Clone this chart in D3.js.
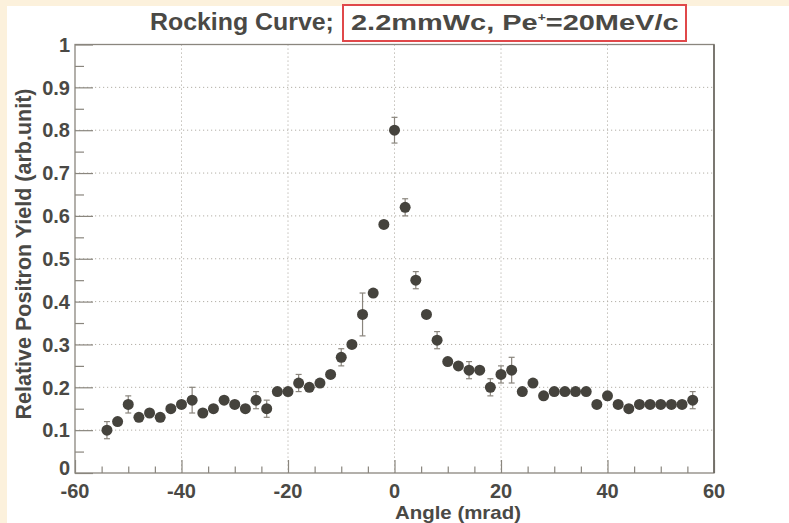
<!DOCTYPE html>
<meta charset="utf-8">
<style>
  body { margin: 0; background: #fcf1dc; }
  svg { display: block; }
  text { font-family: "Liberation Sans", Arial, Helvetica, sans-serif; fill: #4a4945; font-weight: bold; }
</style>
<svg width="789" height="523"></svg>
<script src="https://cdn.jsdelivr.net/npm/d3@7"></script>
<script>

// measured points: angle (mrad), relative yield, error (0 = bar hidden by marker)
var angles = [-54, -52, -50, -48, -46, -44, -42, -40, -38, -36, -34, -32, -30, -28, -26, -24, -22, -20,
              -18, -16, -14, -12, -10, -8, -6, -4, -2, 0, 2, 4, 6, 8, 10, 12, 14, 16, 18, 20,
              22, 24, 26, 28, 30, 32, 34, 36, 38, 40, 42, 44, 46, 48, 50, 52, 54, 56];
var yields = [0.10, 0.12, 0.16, 0.13, 0.14, 0.13, 0.15, 0.16, 0.17, 0.14, 0.15, 0.17, 0.16, 0.15, 0.17, 0.15, 0.19, 0.19,
              0.21, 0.20, 0.21, 0.23, 0.27, 0.30, 0.37, 0.42, 0.58, 0.80, 0.62, 0.45, 0.37, 0.31, 0.26, 0.25, 0.24, 0.24, 0.20, 0.23,
              0.24, 0.19, 0.21, 0.18, 0.19, 0.19, 0.19, 0.19, 0.16, 0.18, 0.16, 0.15, 0.16, 0.16, 0.16, 0.16, 0.16, 0.17];
var errors = [0.02, 0, 0.02, 0, 0, 0, 0, 0, 0.03, 0, 0, 0, 0, 0, 0.02, 0.02, 0, 0,
              0.02, 0, 0, 0, 0.02, 0, 0.05, 0, 0, 0.03, 0.02, 0.02, 0, 0.02, 0, 0, 0.02, 0, 0.02, 0.02,
              0.03, 0, 0, 0, 0, 0, 0, 0, 0, 0, 0, 0, 0, 0, 0, 0, 0, 0.02];

var xMajor = [-60, -40, -20, 0, 20, 40, 60];
var yMajor = [0, 0.1, 0.2, 0.3, 0.4, 0.5, 0.6, 0.7, 0.8, 0.9, 1];

var svg = d3.select("svg");

var frame = { left: 75, right: 714, top: 44.5, bottom: 473 };

var x = d3.scaleLinear().domain([-60, 60]).range([frame.left, frame.right]);
var y = d3.scaleLinear().domain([0, 1]).range([frame.bottom, frame.top]);

// squeeze/stretch a text element horizontally so it spans [x0, x1]
function fitWidth(sel, x0, x1) {
  var w = sel.node().getBBox().width;
  sel.attr("transform", "translate(" + x0 + ",0) scale(" + ((x1 - x0) / w) + ",1) translate(" + (-x0) + ",0)");
}

// white pad
svg.append("rect")
    .attr("x", 7).attr("y", 6)
    .attr("width", 782).attr("height", 517)
    .attr("fill", "#fff");

// grid
var grid = svg.append("g")
    .attr("stroke", "#b3afa7")
    .attr("stroke-width", 1)
    .attr("stroke-dasharray", "1.2,2.8");

grid.selectAll(".gx")
    .data(xMajor.filter(function(d) { return d > -60 && d < 60; }))
  .enter().append("line")
    .attr("x1", function(d) { return x(d); })
    .attr("x2", function(d) { return x(d); })
    .attr("y1", frame.top).attr("y2", frame.bottom);

grid.selectAll(".gy")
    .data(yMajor.filter(function(d) { return d > 0 && d < 1; }))
  .enter().append("line")
    .attr("y1", function(d) { return y(d); })
    .attr("y2", function(d) { return y(d); })
    .attr("x1", frame.left).attr("x2", frame.right);

// axes (ROOT style: ticks inside the frame)
var axisColor = "#8a867e";

var yAxis = d3.axisRight(y).tickValues(d3.range(0, 1.0001, 0.05))
    .tickSize(9).tickFormat("");
var gy = svg.append("g").attr("transform", "translate(" + frame.left + ",0)").call(yAxis);
gy.selectAll(".tick line")
    .attr("x2", function(d) { return Math.round(d * 100) % 10 === 0 ? 18 : 9; });

var xAxis = d3.axisTop(x).tickValues(d3.range(-60, 60.001, 5))
    .tickSize(6.5).tickFormat("");
var gx = svg.append("g").attr("transform", "translate(0," + frame.bottom + ")").call(xAxis);
gx.selectAll(".tick line")
    .attr("y2", function(d) { return d % 20 === 0 ? -13 : -6.5; });

svg.selectAll(".domain").remove();
svg.selectAll(".tick line").attr("stroke", axisColor).attr("stroke-width", 1.2);

// frame
svg.append("rect")
    .attr("x", frame.left).attr("y", frame.top)
    .attr("width", frame.right - frame.left)
    .attr("height", frame.bottom - frame.top)
    .attr("fill", "none")
    .attr("stroke", axisColor)
    .attr("stroke-width", 1.3);
svg.append("line")
    .attr("x1", frame.right).attr("x2", frame.right)
    .attr("y1", frame.top).attr("y2", frame.bottom)
    .attr("stroke", "#6d6a63").attr("stroke-width", 1.6);

// tick labels
svg.append("g").selectAll("text")
    .data(yMajor)
  .enter().append("text")
    .attr("x", 70)
    .attr("y", function(d) { return d === 0 ? y(d) - 5 : y(d); })
    .attr("dy", "0.36em")
    .attr("text-anchor", "end")
    .style("font-size", "20px")
    .text(function(d) { return d3.format("~g")(d); });

svg.append("g").selectAll("text")
    .data(xMajor)
  .enter().append("text")
    .attr("x", function(d) { return x(d); })
    .attr("y", 498)
    .attr("text-anchor", "middle")
    .style("font-size", "20px")
    .text(function(d) { return d; });

// axis titles
svg.append("text")
    .attr("transform", "translate(31,254) rotate(-90)")
    .attr("text-anchor", "middle")
    .style("font-size", "21.5px")
    .text("Relative Positron Yield (arb.unit)");

var xt = svg.append("text")
    .attr("x", 395).attr("y", 519)
    .style("font-size", "18px")
    .text("Angle (mrad)");
fitWidth(xt, 395, 521);

// title
var t1 = svg.append("text")
    .attr("x", 150).attr("y", 30)
    .style("font-size", "23px")
    .text("Rocking Curve;");
fitWidth(t1, 150, 334);

var t2 = svg.append("text")
    .attr("x", 351).attr("y", 30)
    .style("font-size", "23px");
t2.append("tspan").text("2.2mmWc, Pe");
t2.append("tspan").attr("dy", -9).style("font-size", "11px").text("+");
t2.append("tspan").attr("dy", 9).text("=20MeV/c");
fitWidth(t2, 351, 679);

svg.append("rect")
    .attr("x", 343).attr("y", 5)
    .attr("width", 343).attr("height", 36)
    .attr("fill", "none")
    .attr("stroke", "#e0484a")
    .attr("stroke-width", 2);

// data
var points = angles.map(function(a, i) { return { a: a, v: yields[i], e: errors[i] }; });

var bars = svg.append("g")
    .attr("stroke", "#8a857d")
    .attr("stroke-width", 1.2)
  .selectAll("g")
    .data(points.filter(function(d) { return d.e > 0; }))
  .enter().append("g");

bars.append("line")
    .attr("x1", function(d) { return x(d.a); })
    .attr("x2", function(d) { return x(d.a); })
    .attr("y1", function(d) { return y(d.v - d.e); })
    .attr("y2", function(d) { return y(d.v + d.e); });
bars.append("line")
    .attr("x1", function(d) { return x(d.a) - 3; })
    .attr("x2", function(d) { return x(d.a) + 3; })
    .attr("y1", function(d) { return y(d.v - d.e); })
    .attr("y2", function(d) { return y(d.v - d.e); });
bars.append("line")
    .attr("x1", function(d) { return x(d.a) - 3; })
    .attr("x2", function(d) { return x(d.a) + 3; })
    .attr("y1", function(d) { return y(d.v + d.e); })
    .attr("y2", function(d) { return y(d.v + d.e); });

svg.append("g").selectAll("circle")
    .data(points)
  .enter().append("circle")
    .attr("cx", function(d) { return x(d.a); })
    .attr("cy", function(d) { return y(d.v); })
    .attr("r", 5.5)
    .attr("fill", "#45433d");

</script>
